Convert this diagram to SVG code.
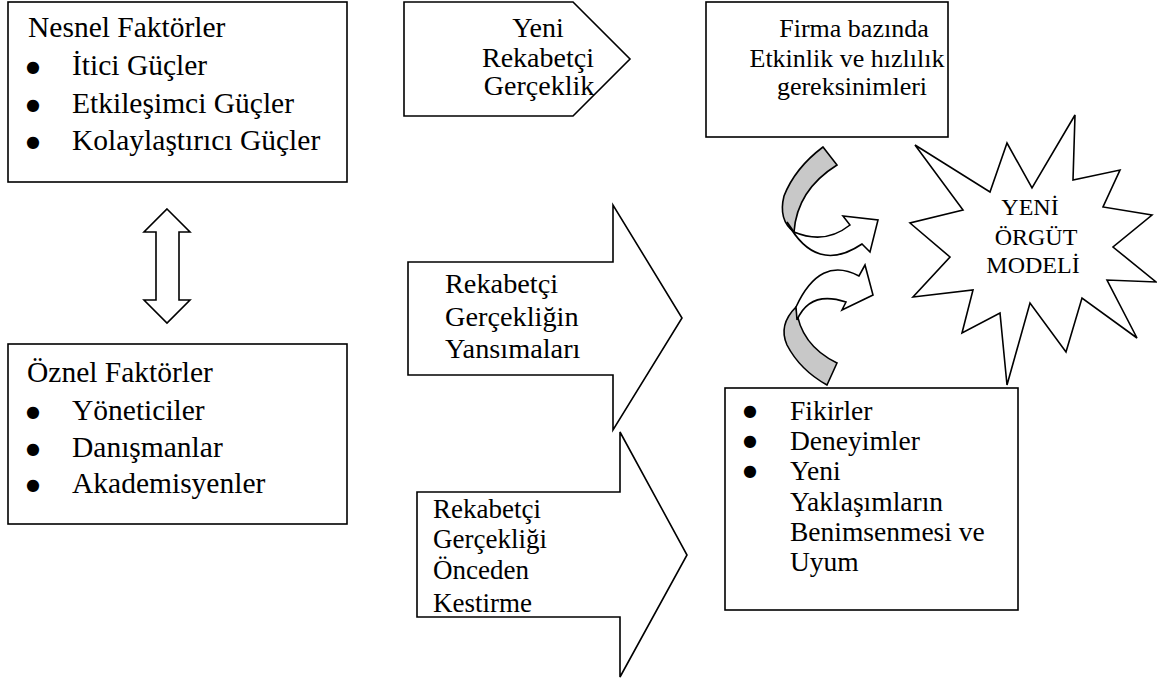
<svg xmlns="http://www.w3.org/2000/svg" width="1157" height="681" viewBox="0 0 1157 681">
  <style>
    .shape { fill: #ffffff; stroke: #000000; stroke-width: 1.6; stroke-linejoin: miter; }
    .back { fill: #c8c8c8; stroke: #000000; stroke-width: 1.6; }
    .t { font-family: "Liberation Serif", "Times New Roman", serif; fill: #000000; }
    .c { text-anchor: middle; }
    .big { font-size: 29.5px; }
    .pent { font-size: 28px; }
    .firm { font-size: 26px; }
    .ar1 { font-size: 28.3px; }
    .ar2 { font-size: 27px; }
    .idea { font-size: 27.5px; }
    .star { font-size: 24px; }
    .bul { font-family: "DejaVu Sans", sans-serif; font-size: 16px; fill: #000000; text-anchor: middle; dominant-baseline: central; }
  </style>
  <rect width="1157" height="681" fill="#ffffff"/>

  <!-- objective factors -->
  <g id="nesnel">
    <rect class="shape" x="8" y="2" width="339" height="180"/>
    <text class="t big" x="28" y="37">Nesnel Faktörler</text>
    <text class="bul" x="33" y="66">●</text>
    <text class="t big" x="72" y="75">İtici Güçler</text>
    <text class="bul" x="33" y="104">●</text>
    <text class="t big" x="72" y="113">Etkileşimci Güçler</text>
    <text class="bul" x="33" y="141">●</text>
    <text class="t big" x="72" y="150">Kolaylaştırıcı Güçler</text>
  </g>

  <!-- subjective factors -->
  <g id="oznel">
    <rect class="shape" x="8" y="344" width="339" height="180"/>
    <text class="t big" x="27" y="382">Öznel Faktörler</text>
    <text class="bul" x="33" y="411">●</text>
    <text class="t big" x="72" y="420">Yöneticiler</text>
    <text class="bul" x="33" y="448">●</text>
    <text class="t big" x="72" y="457">Danışmanlar</text>
    <text class="bul" x="33" y="484">●</text>
    <text class="t big" x="72" y="493">Akademisyenler</text>
  </g>

  <!-- pentagon -->
  <g id="yeni-rekabet">
    <polygon class="shape" points="404,2 573,2 630,59 573,116 404,116"/>
    <text class="t c pent" x="538" y="37">Yeni</text>
    <text class="t c pent" x="538" y="67">Rekabetçi</text>
    <text class="t c pent" x="539" y="95">Gerçeklik</text>
  </g>

  <!-- firm level requirements -->
  <g id="firma">
    <rect class="shape" x="706" y="2" width="242" height="135"/>
    <text class="t c firm" x="854" y="37">Firma bazında</text>
    <text class="t c firm" x="847" y="67">Etkinlik ve hızlılık</text>
    <text class="t c firm" x="852" y="95">gereksinimleri</text>
  </g>

  <!-- block arrows -->
  <g id="yansimalar">
    <polygon class="shape" points="408,262 613,262 613,205 682,318 613,430 613,375 408,375"/>
    <text class="t ar1" x="445" y="293">Rekabetçi</text>
    <text class="t ar1" x="445" y="326">Gerçekliğin</text>
    <text class="t ar1" x="445" y="358">Yansımaları</text>
  </g>

  <g id="kestirme">
    <polygon class="shape" points="417,492 620,492 620,432 687,555 620,677 620,617 417,617"/>
    <text class="t ar2" x="433" y="518">Rekabetçi</text>
    <text class="t ar2" x="433" y="548">Gerçekliği</text>
    <text class="t ar2" x="433" y="579">Önceden</text>
    <text class="t ar2" x="433" y="612">Kestirme</text>
  </g>

  <!-- ideas box -->
  <g id="fikirler">
    <rect class="shape" x="725" y="388" width="293" height="222"/>
    <text class="bul" x="750" y="410">●</text>
    <text class="t idea" x="790" y="420">Fikirler</text>
    <text class="bul" x="750" y="440">●</text>
    <text class="t idea" x="790" y="450">Deneyimler</text>
    <text class="bul" x="750" y="470">●</text>
    <text class="t idea" x="790" y="480">Yeni</text>
    <text class="t idea" x="790" y="511">Yaklaşımların</text>
    <text class="t idea" x="790" y="541">Benimsenmesi ve</text>
    <text class="t idea" x="790" y="571">Uyum</text>
  </g>

  <!-- explosion -->
  <g id="yeni-model">
    <polygon class="shape" points="915,145 990,192 1007,143 1032,188 1075,115 1073,180 1120,170 1103,207 1152,215 1113,247 1156,282 1107,280 1137,338 1082,298 1066,352 1030,303 1007,385 1000,313 962,333 973,290 913,297 950,257 910,223 963,210"/>
    <text class="t c star" x="1030" y="215">YENİ</text>
    <text class="t c star" x="1036" y="245">ÖRGÜT</text>
    <text class="t c star" x="1033" y="273">MODELİ</text>
  </g>

  <!-- connectors -->
  <g id="connectors">
    <polygon class="shape" points="167,209 190,232 179,232 179,300 190,300 167,323 144,300 156,300 156,232 144,232"/>
    <!-- upper curved arrow -->
    <path class="back" d="M823,147 L837,165 Q797,190 794,232 Q778,220 784,196 Q795,168 823,147 Z"/>
    <path class="shape" d="M794,232 Q825,245 850,225 L843,216 L878,220 L870,252 L862,244 Q816,275 787,222 Z"/>
    <!-- lower curved arrow -->
    <path class="back" d="M827,385 L837,363 Q800,345 796,307 Q778,325 787,345 Q800,370 827,385 Z"/>
    <path class="shape" d="M796,307 Q820,255 859,276 L865,265 L873,295 L842,310 L846,302 Q810,290 797,320 Z"/>
  </g>
</svg>
